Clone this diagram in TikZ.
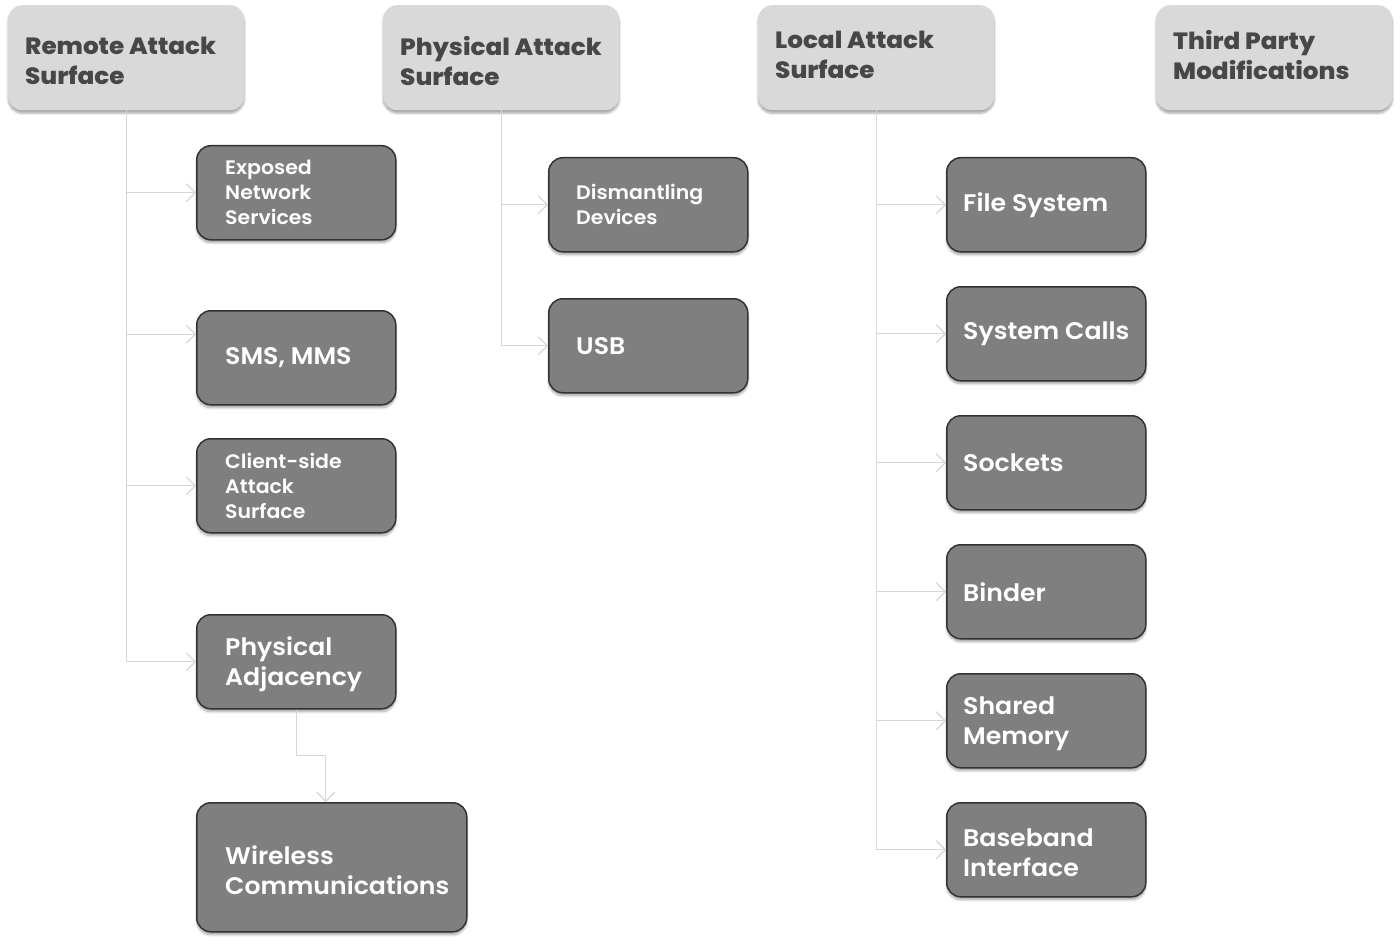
\documentclass[tikz,border=0pt]{standalone}
\usepackage{fontspec}
\setmainfont{Poppins}
\newfontfamily\ifont{Poppins SemiBold}[FakeStretch=1.05]
\newfontfamily\hfont{Poppins ExtraBold}[FakeStretch=1.05]
\usetikzlibrary{arrows.meta,shadows.blur,calc}
\definecolor{hdrgray}{HTML}{D9D9D9}
\definecolor{itemgray}{HTML}{7F7F7F}
\definecolor{itemline}{HTML}{333333}
\definecolor{connc}{HTML}{D6D6D6}
\definecolor{hdrtext}{HTML}{474747}
\tikzset{
  hdr/.style={rounded corners=14pt, fill=hdrgray, draw=none,
    blur shadow={shadow xshift=0pt, shadow yshift=-3pt, shadow blur steps=6, shadow opacity=35},
    minimum width=236pt, minimum height=105pt, anchor=north west, inner sep=0pt},
  item/.style={rounded corners=14pt, fill=itemgray, draw=itemline, line width=1.5pt,
    blur shadow={shadow xshift=0pt, shadow yshift=-3pt, shadow blur steps=6, shadow opacity=35},
    minimum width=199pt, minimum height=94pt, anchor=north west, inner sep=0pt},
  htext/.style={anchor=west, align=left, text=hdrtext, inner sep=0pt,
    font=\hfont\fontsize{23.5}{30}\selectfont},
  itext/.style={anchor=west, align=left, text=white, inner sep=0pt,
    font=\ifont\fontsize{24}{30}\selectfont},
  stext/.style={anchor=west, align=left, text=white, inner sep=0pt,
    font=\ifont\fontsize{19.5}{25}\selectfont},
  conn/.style={draw=connc, line width=1.4pt, -{Straight Barb[length=9pt,width=18pt,line width=1.2pt]}},
}
\begin{document}
\begin{tikzpicture}[x=1pt,y=-1pt]
\useasboundingbox (0,0) rectangle (1400,944);
% headers
\node[hdr] (remote) at (8,5) {};
\node[hdr] (phys) at (383,5) {};
\node[hdr] (local) at (758,5) {};
\node[hdr] (third) at (1156,5) {};
\node[htext] (remoteT) at (25,61) {Remote Attack\\Surface};
\node[htext] (physT) at (400,61) {Physical Attack\\Surface};
\node[htext] (localT) at (775,55) {Local Attack\\Surface};
\node[htext] (thirdT) at (1173,55) {Third Party\\Modifications};
% remote items
\node[item] (ens) at (196,145) {};
\node[item] (sms) at (196,310) {};
\node[item] (cs) at (196,438) {};
\node[item] (pa) at (196,614) {};
\node[item, minimum width=270pt, minimum height=129pt] (wc) at (196,802) {};
\node[stext] (ensT) at ([xshift=29pt]ens.west) {Exposed\\Network\\Services};
\node[itext] (smsT) at ([xshift=29pt]sms.west) {SMS, MMS};
\node[stext] (csT) at ([xshift=29pt]cs.west) {Client-side\\Attack\\Surface};
\node[itext] (paT) at ([xshift=29pt,yshift=-3pt]pa.west) {Physical\\Adjacency};
\node[itext] (wcT) at ([xshift=29pt,yshift=-3pt]wc.west) {Wireless\\Communications};
% physical items
\node[item] (dis) at (548,157) {};
\node[item] (usb) at (548,298) {};
\node[stext] (disT) at ([xshift=28pt]dis.west) {Dismantling\\Devices};
\node[itext] (usbT) at ([xshift=28pt]usb.west) {USB};
% local items
\node[item] (fs) at (946,157) {};
\node[item] (sc) at (946,286) {};
\node[item] (so) at (946,415) {};
\node[item] (bi) at (946,544) {};
\node[item] (sm) at (946,673) {};
\node[item] (bb) at (946,802) {};
\node[itext] (fsT) at ([xshift=17pt]fs.west) {File System};
\node[itext] (scT) at ([xshift=17pt]sc.west) {System Calls};
\node[itext] (soT) at ([xshift=17pt]so.west) {Sockets};
\node[itext] (biT) at ([xshift=17pt]bi.west) {Binder};
\node[itext] (smT) at ([xshift=17pt,yshift=-3pt]sm.west) {Shared\\Memory};
\node[itext] (bbT) at ([xshift=17pt,yshift=-3pt]bb.west) {Baseband\\Interface};
% connectors
\draw[conn] (remote.south) |- (ens.west);
\draw[conn] (remote.south) |- ([yshift=23.5pt]sms.west);
\draw[conn] (remote.south) |- (cs.west);
\draw[conn] (remote.south) |- (pa.west);
\draw[conn] (phys.south) |- (dis.west);
\draw[conn] (phys.south) |- (usb.west);
\draw[conn] (local.south) |- (fs.west);
\draw[conn] (local.south) |- (sc.west);
\draw[conn] (local.south) |- (so.west);
\draw[conn] (local.south) |- (bi.west);
\draw[conn] (local.south) |- (sm.west);
\draw[conn] (local.south) |- (bb.west);
\draw[conn] (pa.south) -- ++(0,46) -| ([xshift=-6pt]wc.north);
\end{tikzpicture}
\end{document}
